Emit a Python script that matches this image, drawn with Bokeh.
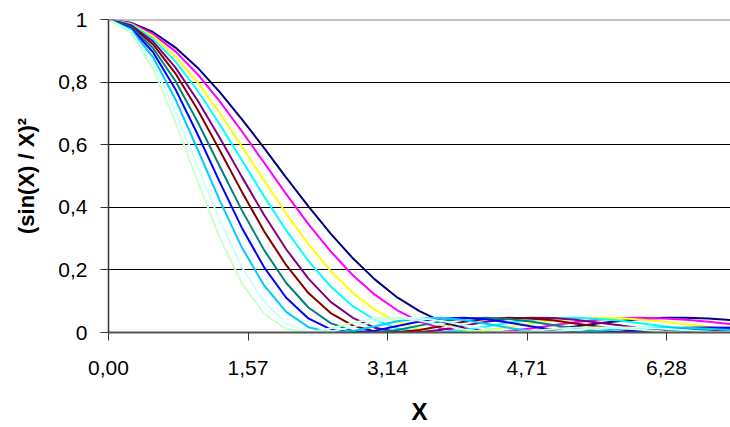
from bokeh.plotting import figure
from bokeh.models import Range1d, FixedTicker, CustomJSTickFormatter, Span
from bokeh.embed import file_html
from bokeh.resources import INLINE

# X values (category positions)
x_values = [0.00, 0.25, 0.50, 0.75, 1.00, 1.25, 1.50, 1.75, 2.00, 2.25, 2.50, 2.75,
            3.00, 3.25, 3.50, 3.75, 4.00, 4.25, 4.50, 4.75, 5.00, 5.25, 5.50, 5.75,
            6.00, 6.25, 6.50, 6.75, 7.00]

series_navy = [1.000, 0.990, 0.960, 0.911, 0.847, 0.769, 0.682, 0.590, 0.495, 0.403, 0.316, 0.237, 0.169, 0.112, 0.068,
               0.035, 0.014, 0.003, 0.000, 0.003, 0.010, 0.019, 0.029, 0.037, 0.043, 0.047, 0.047, 0.045, 0.040]
series_magenta = [1.000, 0.988, 0.954, 0.899, 0.826, 0.739, 0.643, 0.543, 0.442, 0.346, 0.259, 0.183, 0.120, 0.071, 0.035,
                  0.013, 0.002, 0.000, 0.005, 0.013, 0.023, 0.033, 0.041, 0.046, 0.047, 0.045, 0.041, 0.034, 0.027]
series_yellow = [1.000, 0.986, 0.947, 0.883, 0.800, 0.702, 0.595, 0.486, 0.380, 0.282, 0.197, 0.126, 0.072, 0.034, 0.011,
                 0.001, 0.001, 0.007, 0.018, 0.028, 0.038, 0.044, 0.047, 0.046, 0.041, 0.034, 0.026, 0.018, 0.010]
series_cyan = [1.000, 0.985, 0.939, 0.867, 0.774, 0.666, 0.551, 0.435, 0.326, 0.229, 0.147, 0.084, 0.040, 0.013, 0.001,
               0.001, 0.008, 0.019, 0.031, 0.040, 0.046, 0.047, 0.044, 0.038, 0.029, 0.020, 0.012, 0.005, 0.001]
series_purple = [1.000, 0.982, 0.930, 0.848, 0.743, 0.623, 0.498, 0.376, 0.266, 0.172, 0.098, 0.047, 0.015, 0.002, 0.001,
                 0.009, 0.022, 0.034, 0.043, 0.047, 0.046, 0.041, 0.032, 0.023, 0.013, 0.006, 0.002, 0.000, 0.001]
series_darkred = [1.000, 0.980, 0.921, 0.829, 0.713, 0.583, 0.450, 0.324, 0.215, 0.126, 0.062, 0.022, 0.003, 0.001, 0.008,
                  0.021, 0.034, 0.043, 0.047, 0.045, 0.039, 0.029, 0.019, 0.010, 0.003, 0.000, 0.001, 0.003, 0.008]
series_teal = [1.000, 0.977, 0.909, 0.805, 0.675, 0.532, 0.391, 0.264, 0.158, 0.080, 0.030, 0.005, 0.000, 0.008, 0.022,
               0.036, 0.045, 0.047, 0.043, 0.035, 0.024, 0.013, 0.005, 0.001, 0.000, 0.003, 0.007, 0.012, 0.015]
series_blue = [1.000, 0.973, 0.896, 0.779, 0.635, 0.482, 0.335, 0.209, 0.111, 0.045, 0.010, 0.000, 0.006, 0.021, 0.035,
               0.045, 0.047, 0.042, 0.032, 0.020, 0.009, 0.002, 0.000, 0.002, 0.006, 0.011, 0.015, 0.016, 0.015]
series_skyblue = [1.000, 0.969, 0.880, 0.747, 0.587, 0.423, 0.272, 0.151, 0.066, 0.017, 0.000, 0.005, 0.020, 0.036, 0.045,
                  0.047, 0.040, 0.028, 0.015, 0.005, 0.000, 0.001, 0.005, 0.010, 0.015, 0.016, 0.015, 0.012, 0.007]
series_lightturquoise = [1.000, 0.964, 0.861, 0.709, 0.533, 0.359, 0.209, 0.098, 0.030, 0.002, 0.003, 0.018, 0.035, 0.046, 0.046,
                         0.037, 0.024, 0.011, 0.002, 0.000, 0.003, 0.008, 0.014, 0.016, 0.015, 0.012, 0.007, 0.002, 0.000]
series_lightgreen = [1.000, 0.959, 0.843, 0.675, 0.485, 0.304, 0.158, 0.060, 0.011, 0.000, 0.013, 0.031, 0.045, 0.047, 0.038,
                     0.024, 0.010, 0.002, 0.000, 0.004, 0.011, 0.015, 0.016, 0.014, 0.009, 0.003, 0.000, 0.000, 0.002]

all_series = [series_navy, series_magenta, series_yellow, series_cyan, series_purple, series_darkred,
              series_teal, series_blue, series_skyblue, series_lightturquoise, series_lightgreen]
series_colors = ["#000080", "#FF00FF", "#FFFF00", "#00FFFF", "#800080", "#800000",
                 "#008080", "#0000FF", "#00CCFF", "#CCFFFF", "#CCFFCC"]

x_ticks = [0.0, 1.57, 3.14, 4.71, 6.28]
y_ticks = [0.0, 0.2, 0.4, 0.6, 0.8, 1.0]

FONT = "Liberation Sans"

p = figure(width=730, height=427, output_backend="svg", toolbar_location=None,
           x_range=Range1d(0, 7.0), y_range=Range1d(0, 1.0))
p.min_border_left = 108
p.min_border_right = 0
p.min_border_top = 19
p.min_border_bottom = 92
p.outline_line_color = None
p.background_fill_color = "white"
p.border_fill_color = "white"

for ys, c in zip(all_series, series_colors):
    p.line(x_values, ys, line_color=c, line_width=2)

# grid
p.xgrid.visible = False
p.ygrid.ticker = FixedTicker(ticks=[0.2, 0.4, 0.6, 0.8])
p.ygrid.grid_line_color = "black"
p.ygrid.grid_line_width = 1

top_line = Span(location=1.0, dimension="width", line_color="#8c8c8c", line_width=2)
p.add_layout(top_line)

# x axis
xa = p.xaxis[0]
xa.ticker = FixedTicker(ticks=x_ticks)
xa.formatter = CustomJSTickFormatter(code="return tick.toFixed(2).replace('.', ',');")
xa.minor_tick_line_color = None
xa.major_tick_in = 0
xa.major_tick_out = 8
xa.major_tick_line_color = "#333333"
xa.axis_line_color = "#555555"
xa.axis_line_width = 2
xa.major_label_text_font = FONT
xa.major_label_text_font_size = "21px"
xa.major_label_text_color = "black"
xa.major_label_standoff = 20
xa.axis_label = "X"
xa.axis_label_text_font = FONT
xa.axis_label_text_font_style = "bold"
xa.axis_label_text_font_size = "24px"
xa.axis_label_text_color = "black"
xa.axis_label_standoff = 20

# y axis
ya = p.yaxis[0]
ya.ticker = FixedTicker(ticks=y_ticks)
ya.formatter = CustomJSTickFormatter(
    code="if (tick == 0) return '0'; if (tick == 1) return '1'; return tick.toFixed(1).replace('.', ',');")
ya.minor_tick_line_color = None
ya.major_tick_in = 0
ya.major_tick_out = 8
ya.major_tick_line_color = "#333333"
ya.axis_line_color = "#333333"
ya.axis_line_width = 1.5
ya.major_label_text_font = FONT
ya.major_label_text_font_size = "21px"
ya.major_label_text_color = "black"
ya.major_label_standoff = 13
ya.axis_label = "(sin(X) / X)²"
ya.axis_label_text_font = FONT
ya.axis_label_text_font_style = "bold"
ya.axis_label_text_font_size = "22px"
ya.axis_label_text_color = "black"
ya.axis_label_standoff = 16

open("out.html", "w").write(file_html(p, INLINE))
